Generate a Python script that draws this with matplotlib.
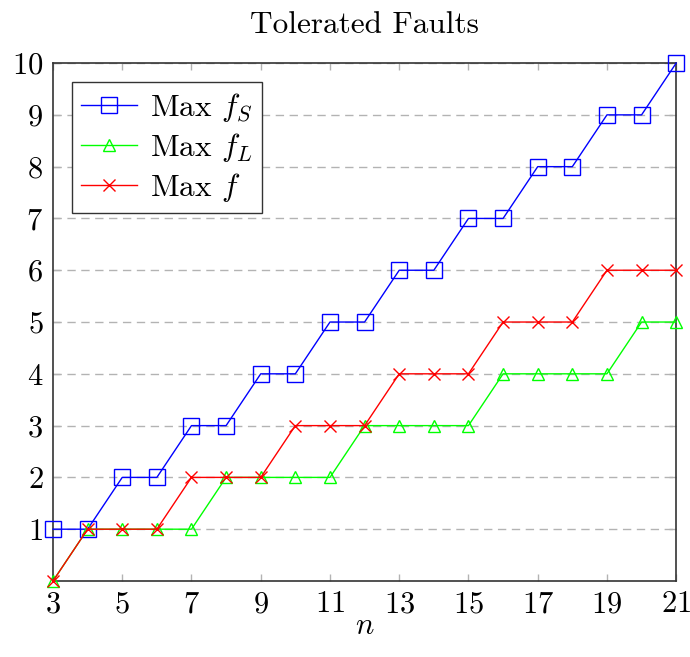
import matplotlib
matplotlib.use("Agg")
import matplotlib.pyplot as plt

plt.rcParams['font.family'] = 'serif'
plt.rcParams['font.serif'] = ['cmr10']
plt.rcParams['mathtext.fontset'] = 'cm'
plt.rcParams['axes.formatter.use_mathtext'] = True

n = list(range(3, 22))
max_fs = [1, 1, 2, 2, 3, 3, 4, 4, 5, 5, 6, 6, 7, 7, 8, 8, 9, 9, 10]
max_fl = [0, 1, 1, 1, 1, 2, 2, 2, 2, 3, 3, 3, 3, 4, 4, 4, 4, 5, 5]
max_f = [0, 1, 1, 1, 2, 2, 2, 3, 3, 3, 4, 4, 4, 5, 5, 5, 6, 6, 6]
x_ticks = list(range(3, 22, 2))
y_ticks = list(range(1, 11))

fig = plt.figure(figsize=(6.9, 6.57), dpi=100)
ax = fig.add_axes([0.0768, 0.1157, 0.9032, 0.7883])

ax.plot(n, max_fs, color='blue', lw=1, marker='s', ms=11, mfc='none', mew=1,
        label='Max $f_S$', zorder=3, clip_on=False)
ax.plot(n, max_fl, color='#00ff00', lw=1, marker='^', ms=9, mfc='none', mew=1,
        label='Max $f_L$', zorder=3, clip_on=False)
ax.plot(n, max_f, color='red', lw=1, marker='x', ms=8, mew=1,
        label='Max $f$', zorder=3, clip_on=False)

ax.set_xlim(3, 21)
ax.set_ylim(0, 10)
ax.set_xticks(x_ticks)
ax.set_yticks(y_ticks)
for y in y_ticks:
    ax.axhline(y, color='#b3b3b3', lw=1, ls=(0, (6, 4)), zorder=1)

ax.tick_params(direction='in', length=5, color='#b3b3b3', width=1,
               top=True, right=True, labelsize=22, pad=7)
for s in ax.spines.values():
    s.set_color('#333333')
    s.set_linewidth(1.2)

ax.set_title('Tolerated Faults', fontsize=22.5, pad=22)
ax.set_xlabel('$n$', fontsize=22, labelpad=-4)

leg = ax.legend(loc='upper left', fontsize=22.5, fancybox=False, edgecolor='#333333',
                framealpha=1, borderaxespad=0.6, handlelength=1.8,
                handletextpad=0.4, labelspacing=0.22, borderpad=0.3)
leg.get_frame().set_linewidth(1)

fig.savefig('out.png', dpi=100)
